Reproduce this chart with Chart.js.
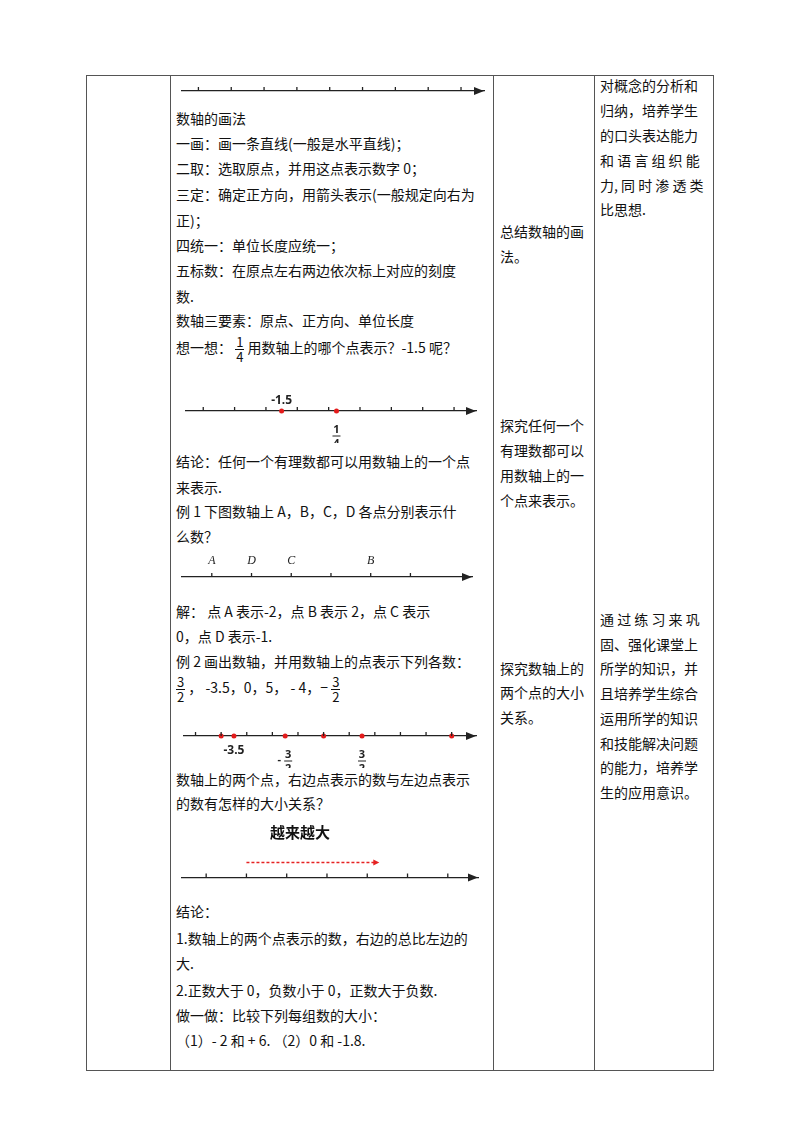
<!DOCTYPE html>
<html lang="zh">
<head>
<meta charset="UTF-8">
<title>数轴</title>
<script src="https://cdn.jsdelivr.net/npm/chart.js"></script>
<style>
  * { margin: 0; padding: 0; box-sizing: border-box; }
  body { width: 800px; height: 1132px; background: #fff; position: relative;
         font-family: "Noto Sans CJK SC", sans-serif; font-size: 14px; color: #111; }
  .t { position: absolute; white-space: nowrap; line-height: 18px; }
  .v { position: absolute; top: 75px; height: 995px; width: 1px; background: #555; }
  .h { position: absolute; left: 86px; width: 628px; height: 1px; background: #555; }
  .nl { position: absolute; }
  .frac { display: inline-block; vertical-align: middle; text-align: center; line-height: 14px; font-size: 13px; }
  .frac span { display: block; }
  .frac .n { border-bottom: 1px solid #111; padding: 0 1px; }
</style>
</head>
<body>
<div class="v" style="left:86px"></div>
<div class="v" style="left:170px"></div>
<div class="v" style="left:493px"></div>
<div class="v" style="left:594px"></div>
<div class="v" style="left:713px"></div>
<div class="h" style="top:75px"></div>
<div class="h" style="top:1070px"></div>

<div class="nl" style="left:180px;top:61px;width:306px;height:42px"><canvas id="nl1"></canvas></div>
<div class="nl" style="left:182px;top:381px;width:298px;height:62px"><canvas id="nl2"></canvas></div>
<div class="nl" style="left:180px;top:547px;width:294px;height:42px"><canvas id="nl3"></canvas></div>
<div class="nl" style="left:180px;top:706px;width:300px;height:62px"><canvas id="nl4"></canvas></div>
<div class="nl" style="left:180px;top:832px;width:300px;height:58px"><canvas id="nl5"></canvas></div>

<div id="texts"></div>

<script>
// ---- data ----
const nl1Ticks = [-4, -3, -2, -1, 0, 1, 2, 3, 4];
const nl2Ticks = [-4, -3, -2, -1, 0, 1, 2, 3, 4];
const nl2Points = [-1.5, 0.25];
const nl3Ticks = [-2, -1, 0, 1, 2, 3];
const nl3Points = [-2, -1, 0, 2];
const nl3Letters = ['A', 'D', 'C', 'B'];
const nl4Ticks = [-5, -4, -3, -2, -1, 0, 1, 2, 3, 4, 5];
const nl4Points = [-4, -3.5, -1.5, 0, 1.5, 5];
const nl5Ticks = [-3, -2, -1, 0, 1, 2, 3];
const nl5Arrow = [-2, 1.3];

const lines2 = [
  [118, '数轴的画法'],
  [143, '一画：画一条直线(一般是水平直线)；'],
  [168, '二取：选取原点，并用这点表示数字 0；'],
  [194, '三定：确定正方向，用箭头表示(一般规定向右为'],
  [220, '正)；'],
  [245, '四统一：单位长度应统一；'],
  [270, '五标数：在原点左右两边依次标上对应的刻度'],
  [296, '数.'],
  [320, '数轴三要素：原点、正方向、单位长度'],
  [461, '结论：任何一个有理数都可以用数轴上的一个点'],
  [487, '来表示.'],
  [511, '例 1  下图数轴上  A，B，C，D  各点分别表示什'],
  [536, '么数？'],
  [611, '解： 点  A  表示-2，点  B  表示  2，点  C  表示'],
  [636, '0，点  D  表示-1.'],
  [661, '例 2  画出数轴，并用数轴上的点表示下列各数：'],
  [779, '数轴上的两个点，右边点表示的数与左边点表示'],
  [803, '的数有怎样的大小关系？'],
  [911, '结论：'],
  [938, '1.数轴上的两个点表示的数，右边的总比左边的'],
  [963, '大.'],
  [990, '2.正数大于 0，负数小于 0，正数大于负数.'],
  [1015, '做一做：比较下列每组数的大小：'],
  [1040, '（1）- 2  和  + 6.    （2）0  和  -1.8.']
];
const lines3 = [
  [231, '总结数轴的画'], [256, '法。'],
  [425, '探究任何一个'], [450, '有理数都可以'], [475, '用数轴上的一'], [500, '个点来表示。'],
  [668, '探究数轴上的'], [692, '两个点的大小'], [717, '关系。']
];
const lines4 = [
  [85, '对概念的分析和'], [110, '归纳，培养学生'], [135, '的口头表达能力'],
  [160, '和 语 言 组 织 能'], [185, '力, 同 时 渗 透 类'], [209, '比思想.'],
  [619, '通 过 练 习 来 巩'], [644, '固、强化课堂上'], [668, '所学的知识，并'], [693, '且培养学生综合'],
  [718, '运用所学的知识'], [743, '和技能解决问题'], [767, '的能力，培养学'], [792, '生的应用意识。']
];

// ---- text ----
const box = document.getElementById('texts');
function addText(x, y, s, extra) {
  const d = document.createElement('div');
  d.className = 't';
  d.style.left = x + 'px';
  d.style.top = (y - 9) + 'px';
  d.innerHTML = s;
  if (extra) Object.assign(d.style, extra);
  box.appendChild(d);
}
lines2.forEach(l => addText(176, l[0], l[1]));
lines3.forEach(l => addText(500, l[0], l[1]));
lines4.forEach(l => addText(600, l[0], l[1]));
const fr = (n, d) => '<span class="frac"><span class="n">' + n + '</span><span>' + d + '</span></span>';
addText(176, 341, '想一想： ' + fr(1, 4) + ' 用数轴上的哪个点表示？-1.5  呢？', { lineHeight: '30px' });
addText(176, 681, fr(3, 2) + ' ，  -3.5，0，5，  - 4，− ' + fr(3, 2), { lineHeight: '30px' });
addText(270, 832, '越来越大', { fontWeight: 'bold', fontSize: '15px' });

// ---- number lines ----
const axisDeco = {
  id: 'axisDeco',
  afterDraw(chart) {
    const ctx = chart.ctx, s = chart.scales.x, y = s.top;
    const o = chart.options.plugins.axisDeco || {};
    ctx.save();
    ctx.strokeStyle = '#222';
    ctx.fillStyle = '#222';
    ctx.lineWidth = 1.3;
    (o.ticks || []).forEach(v => {
      const x = s.getPixelForValue(v);
      ctx.beginPath(); ctx.moveTo(x, y - 4); ctx.lineTo(x, y); ctx.stroke();
    });
    const r = s.right;
    ctx.beginPath(); ctx.moveTo(r, y); ctx.lineTo(r - 10, y - 4); ctx.lineTo(r - 10, y + 4); ctx.closePath(); ctx.fill();
    if (o.letters) {
      ctx.font = 'italic 12px "Liberation Serif"';
      ctx.textAlign = 'center';
      o.letters.forEach((L, i) => ctx.fillText(L, s.getPixelForValue(o.letterAt[i]), y - 13));
    }
    if (o.under) {
      o.under.forEach(u => {
        const x = s.getPixelForValue(u.v) + (u.dx || 0);
        ctx.font = 'bold 11px "Noto Sans"';
        ctx.textAlign = 'center';
        if (u.frac) {
          ctx.fillText(u.frac[0], x, y + 22);
          ctx.beginPath(); ctx.moveTo(x - 4, y + 25); ctx.lineTo(x + 4, y + 25); ctx.lineWidth = 1; ctx.stroke();
          ctx.fillText(u.frac[1], x, y + 36);
          if (u.pre) ctx.fillText(u.pre, x - 9, y + 27);
        } else {
          ctx.font = 'bold 12px "Noto Sans"';
          ctx.fillText(u.text, x, y + (u.dy || 18));
        }
      });
    }
    if (o.dashArrow) {
      const x1 = s.getPixelForValue(o.dashArrow[0]), x2 = s.getPixelForValue(o.dashArrow[1]);
      const yy = y - 15;
      ctx.strokeStyle = '#e52222'; ctx.fillStyle = '#e52222'; ctx.lineWidth = 1.5;
      ctx.setLineDash([3, 2]);
      ctx.beginPath(); ctx.moveTo(x1, yy); ctx.lineTo(x2 - 5, yy); ctx.stroke();
      ctx.setLineDash([]);
      ctx.beginPath(); ctx.moveTo(x2, yy); ctx.lineTo(x2 - 6, yy - 3); ctx.lineTo(x2 - 6, yy + 3); ctx.closePath(); ctx.fill();
    }
    ctx.restore();
  }
};

function numberLine(id, opt) {
  const deco = Object.assign({ ticks: opt.ticks }, opt.deco || {});
  new Chart(document.getElementById(id), {
    type: 'scatter',
    data: { datasets: [{
      data: (opt.points || []).map(v => ({ x: v, y: 0 })),
      backgroundColor: '#e31b1b', borderWidth: 0, pointRadius: 2.5, clip: false
    }] },
    options: {
      responsive: true, maintainAspectRatio: false, animation: false,
      layout: { padding: { top: opt.top || 18, left: 0, right: 0, bottom: opt.bottom || 0 } },
      plugins: { legend: { display: false }, tooltip: { enabled: false }, axisDeco: deco },
      scales: {
        y: { display: false, min: 0, max: 1 },
        x: {
          type: 'linear', min: opt.min, max: opt.max,
          grid: { display: false },
          border: { display: true, color: '#222', width: 1.3 },
          ticks: {
            stepSize: 1, autoSkip: false, maxRotation: 0, padding: 2,
            color: opt.tickColor || '#555',
            font: { family: '"Liberation Serif"', size: opt.tickSize || 11 },
            callback: v => {
              if (!opt.ticks.includes(v)) return '';
              return opt.abs ? String(Math.abs(v)) : (v < 0 ? '−' + Math.abs(v) : String(v));
            }
          }
        }
      }
    },
    plugins: [axisDeco]
  });
}

numberLine('nl1', { ticks: nl1Ticks, min: -4.5, max: 4.7, tickColor: '#333' });
numberLine('nl2', { ticks: nl2Ticks, points: nl2Points, min: -4.55, max: 4.7, bottom: 20,
  deco: { under: [{ v: -1.5, text: '-1.5', dy: -7 }, { v: 0.25, frac: ['1', '4'] }] } });
numberLine('nl3', { ticks: nl3Ticks, min: -2.75, max: 4.55, tickColor: '#222', tickSize: 12,
  deco: { letters: nl3Letters, letterAt: nl3Points } });
numberLine('nl4', { ticks: nl4Ticks, points: nl4Points, min: -5.45, max: 5.95, abs: true, tickColor: '#888', bottom: 20,
  deco: { under: [{ v: -3.5, text: '-3.5', dy: 18 }, { v: -1.5, frac: ['3', '2'], pre: '-', dx: 3 }, { v: 1.5, frac: ['3', '2'] }] } });
numberLine('nl5', { ticks: nl5Ticks, min: -3.6, max: 3.75, top: 33, tickColor: '#333', tickSize: 13,
  deco: { dashArrow: nl5Arrow } });
</script>
</body>
</html>
